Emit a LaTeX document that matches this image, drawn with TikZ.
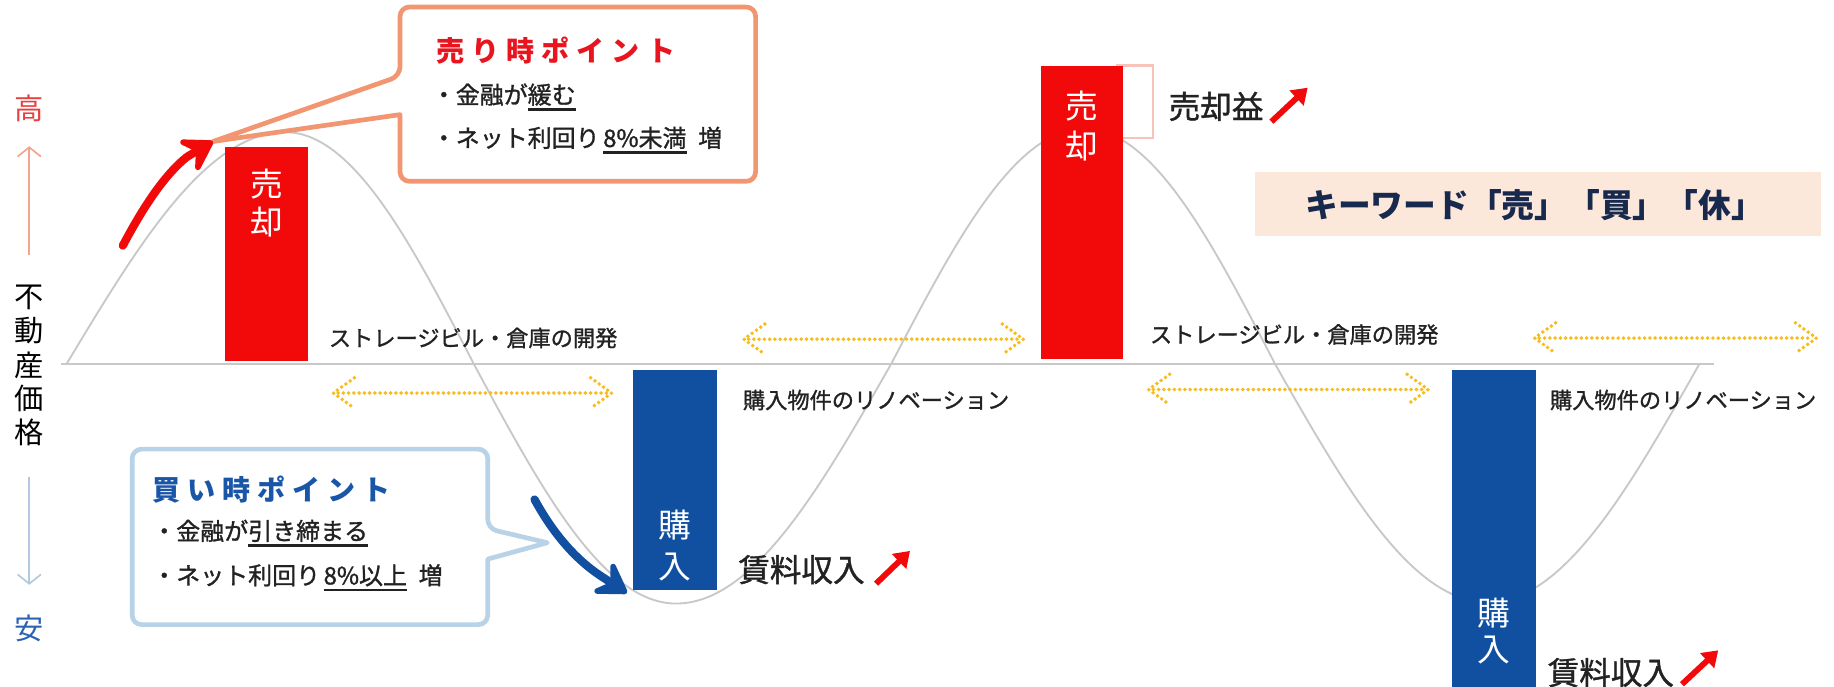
\documentclass[tikz,border=0pt]{standalone}
\usepackage{fontspec}
\setmainfont{Noto Sans CJK JP}
\newfontfamily\jpmed{Noto Sans CJK JP}[FakeBold=1.2]
\usetikzlibrary{arrows.meta}
\definecolor{barred}{HTML}{F20A0A}
\definecolor{barblue}{HTML}{1150A0}
\definecolor{hdred}{HTML}{E8141E}
\definecolor{hdblue}{HTML}{1A56A8}
\definecolor{salmon}{HTML}{F29672}
\definecolor{lblue}{HTML}{B8D3E8}
\definecolor{hired}{HTML}{E84040}
\definecolor{lowblue}{HTML}{2C63B0}
\definecolor{uparrc}{HTML}{F4A48C}
\definecolor{dnarrc}{HTML}{B0C8E0}
\definecolor{gold}{HTML}{F7BC1E}
\definecolor{kwfill}{HTML}{FCE8DA}
\definecolor{kwtext}{HTML}{17294D}
\definecolor{curvegray}{HTML}{C8C8C8}
\definecolor{pinkedge}{HTML}{F6C4BA}
\definecolor{txt}{HTML}{222222}
\newcommand\myfs[1]{\fontsize{#1}{#1}\selectfont}
\newsavebox\ulsave
\newcommand\ulbar[1]{\sbox\ulsave{#1}\rlap{\rule[-6pt]{\wd\ulsave}{2.4pt}}\usebox\ulsave}
\newcommand\lsp{\kern6pt}
\begin{document}
\begin{tikzpicture}[x=1pt,y=-1pt,
  curve/.style={draw=curvegray, line width=1.6pt},
  baseln/.style={draw=curvegray, line width=2pt},
  bartxt/.style={text=white, font=\myfs{28}, inner sep=0pt},
  lbl/.style={text=txt, font=\jpmed\myfs{19}, inner sep=0pt, anchor=west},
  biglbl/.style={text=txt, font=\jpmed\myfs{27}, inner sep=0pt, anchor=west},
  body/.style={text=txt, font=\jpmed\myfs{20.5}, inner sep=0pt, anchor=west},
  gdot/.style={draw=gold, line width=3.4pt, line cap=round, dash pattern=on 0pt off 4.5pt},
  sellbox/.style={draw=salmon, line width=4pt, fill=white, line join=round},
  buybox/.style={draw=lblue, line width=4pt, fill=white, line join=round},
  bigshaft/.style={line width=7pt, line cap=round},
  bighead/.style={line width=7pt, -{Stealth[length=32pt,width=40pt,inset=13pt,round]}},
  smallarr/.style={draw=barred, line width=5pt, -{Triangle[length=13pt,width=17pt]}},
  axisarr/.style={line width=1.4pt, -{Straight Barb[length=8pt,width=20pt]}},
  axtxt/.style={font=\myfs{25}, inner sep=0pt}
]
\useasboundingbox (0,0) rectangle (1568,587);

% axis labels
\node[axtxt, text=hired] (hi) at (25,93) {高};
\coordinate (ua0) at (25,218);
\coordinate (ua1) at (25,125);
\draw[axisarr, draw=uparrc] (ua0) -- (ua1);
\node[axtxt, text=black] (y1) at (25,254) {不};
\node[axtxt, text=black] (y2) at (25,283) {動};
\node[axtxt, text=black] (y3) at (25,312) {産};
\node[axtxt, text=black] (y4) at (25,341) {価};
\node[axtxt, text=black] (y5) at (25,370) {格};
\coordinate (da0) at (25,408);
\coordinate (da1) at (25,500);
\draw[axisarr, draw=dnarrc] (da0) -- (da1);
\node[axtxt, text=lowblue] (lo) at (25,537) {安};

% baseline and price curve
\draw[baseln] (52,311) -- (1465,311);
\draw[curve] (57,311) sin (244,113) cos (405,311) sin (578,516) cos (762,311)
  sin (927,110) cos (1090,311) sin (1272,515) cos (1453,311);

% bars
\fill[barred] (192,126) rectangle (263,309);
\node[bartxt] (s1a) at (228,157) {売};
\node[bartxt] (s1b) at (228,190) {却};

\draw[draw=pinkedge, line width=2pt, fill=white] (955,56) rectangle (986,118);
\fill[barred] (890,56) rectangle (960,307);
\node[bartxt] (s2a) at (925,91) {売};
\node[bartxt] (s2b) at (925,125) {却};

\fill[barblue] (541,316) rectangle (613,504);
\node[bartxt] (b1a) at (577,449) {購};
\node[bartxt] (b1b) at (577,485) {入};

\fill[barblue] (1241,316) rectangle (1313,587);
\node[bartxt] (b2a) at (1277,524) {購};
\node[bartxt] (b2b) at (1277,556) {入};

% labels near bars
\node[lbl] (st1) at (281,289) {ストレージビル・倉庫の開発};
\node[lbl] (st2) at (983,286) {ストレージビル・倉庫の開発};
\node[lbl] (rn1) at (635,342) {購入物件のリノベーション};
\node[lbl] (rn2) at (1325,342) {購入物件のリノベーション};

\node[biglbl] (gain) at (999,91) {売却益};
\coordinate (ga0) at (1087,104);
\coordinate (ga1) at (1118,75);
\draw[smallarr] (ga0) -- (ga1);

\node[biglbl] (rent1) at (631,487) {賃料収入};
\coordinate (r1a) at (749,499);
\coordinate (r1b) at (778,471);
\draw[smallarr] (r1a) -- (r1b);

\node[biglbl] (rent2) at (1323,575) {賃料収入};
\coordinate (r2a) at (1438,585);
\coordinate (r2b) at (1469,556);
\draw[smallarr] (r2a) -- (r2b);

% dotted double arrows
\newcommand\goldarr[3]{%
  \draw[gdot] (#1+4,#3) -- (#2-4,#3);
  \draw[gdot] (#1+18,#3-13) -- (#1,#3) -- (#1+18,#3+13);
  \draw[gdot] (#2-18,#3-13) -- (#2,#3) -- (#2-18,#3+13);}
\goldarr{285}{523}{336}
\goldarr{636}{875}{290}
\goldarr{982}{1221}{333}
\goldarr{1312}{1553}{289}

% sell callout
\coordinate (stip) at (182,121);
\draw[sellbox] (342,65) -- (stip) -- (342,98) [rounded corners=8pt] -- (342,155)
  -- (646,155) -- (646,6) -- (342,6) -- cycle;
\node[body, text=hdred, font=\myfs{24}\bfseries] (sellh) at (373,43) {売\lsp り\lsp 時\lsp ポ\lsp イ\lsp ン\lsp ト};
\node[body] (sell1) at (369,83) {・金融が\ulbar{緩む}};
\node[body] (sell2) at (369,120) {・ネット利回り\kern3pt\ulbar{8\%未満}\kern10pt 増};

% buy callout
\coordinate (btip) at (468,464);
\draw[buybox] (417,452) -- (btip) -- (417,478) [rounded corners=8pt] -- (417,534)
  -- (113,534) -- (113,384) -- (417,384) -- cycle;
\node[body, text=hdblue, font=\myfs{24}\bfseries] (buyh) at (130,419) {買\lsp い\lsp 時\lsp ポ\lsp イ\lsp ン\lsp ト};
\node[body] (buy1) at (130,456) {・金融が\ulbar{引き締まる}};
\node[body] (buy2) at (130,494) {・ネット利回り\kern3pt\ulbar{8\%以上}\kern10pt 増};

% big curved arrows: shaft + straight head
\coordinate (ra0) at (105,210);
\coordinate (ra1) at (160,134);
\draw[bigshaft, draw=barred] (ra0) .. controls (122,178) and (140,150) .. (ra1);
\draw[bighead, draw=barred] (ra1) -- (stip);
\coordinate (ba0) at (457,427);
\coordinate (ba1) at (513,492);
\coordinate (ba2) at (536,507);
\draw[bigshaft, draw=barblue] (ba0) .. controls (475,460) and (495,480) .. (ba1);
\draw[bighead, draw=barblue] (ba1) -- (ba2);

% keyword box
\fill[kwfill] (1073,147) rectangle (1557,202);
\node[font=\myfs{28}\bfseries, text=kwtext, inner sep=0pt] (kw) at (1312,175) {キーワード「売」「買」「休」};
\end{tikzpicture}
\end{document}
